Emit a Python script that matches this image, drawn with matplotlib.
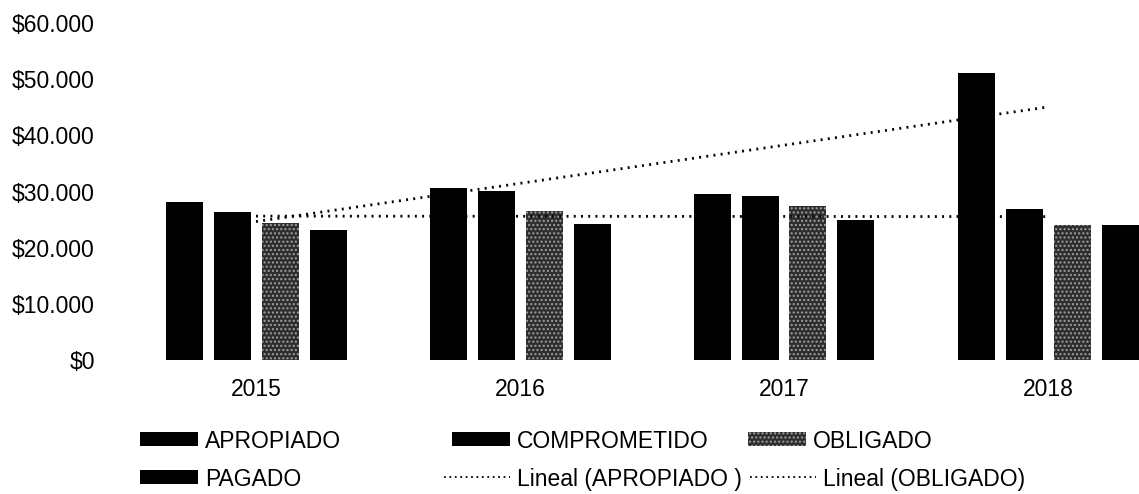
import matplotlib
matplotlib.use('Agg')
import matplotlib.pyplot as plt
from matplotlib.patches import Patch
from matplotlib.lines import Line2D
import numpy as np

plt.rcParams['font.family'] = ['Liberation Sans', 'DejaVu Sans']

years = ['2015', '2016', '2017', '2018']
apropiado = [28100, 30600, 29600, 51100]
comprometido = [26300, 30100, 29200, 26900]
obligado = [24400, 26500, 27400, 24000]
pagado = [23100, 24200, 24900, 24000]

y_ticks = [0, 10000, 20000, 30000, 40000, 50000, 60000]
y_labels = ['$0', '$10.000', '$20.000', '$30.000', '$40.000', '$50.000', '$60.000']

W, H = 1139, 494
fig = plt.figure(figsize=(W / 100, H / 100), dpi=100)
ax = fig.add_axes([124 / W, 1 - 360 / H, (W - 124) / W, (360 - 23) / H])

x = np.arange(len(years))
step = 48 / 264
width = 37 / 264

ax.bar(x - 1.5 * step, apropiado, width, color='black')
ax.bar(x - 0.5 * step, comprometido, width, color='black')
ax.bar(x + 0.5 * step, obligado, width, color='#2e2e2e', edgecolor='#a0a0a0',
       linewidth=0, hatch='....')
ax.bar(x + 1.5 * step, pagado, width, color='black')

# linear trend lines as Excel draws them, on top of the bars
for series in (apropiado, obligado):
    k, b = np.polyfit(x + 1, series, 1)
    ax.plot(x, k * (x + 1) + b, color='black', lw=2, dashes=(0.7, 1.9), zorder=3)

ax.set_xlim(-0.5, -0.5 + (W - 124) / 264)
ax.set_ylim(0, 60000)
ax.set_xticks(x)
ax.set_xticklabels(years)
ax.set_yticks(y_ticks)
ax.set_yticklabels(y_labels)
ax.tick_params(axis='both', length=0, labelsize=16.5)
ax.tick_params(axis='x', pad=13)
ax.tick_params(axis='y', pad=21)
for s in ax.spines.values():
    s.set_visible(False)

# legend laid out like Excel's grid legend, one entry at a time
bar_h = dict(handlelength=2.53, handleheight=0.57)
dot_h = dict(handlelength=2.9)
entries = [
    (Patch(facecolor='black'), 'APROPIADO', 140, 441, bar_h),
    (Patch(facecolor='black'), 'COMPROMETIDO', 452, 441, bar_h),
    (Patch(facecolor='#2e2e2e', edgecolor='#a0a0a0', linewidth=0, hatch='....'), 'OBLIGADO', 748, 441, bar_h),
    (Patch(facecolor='black'), 'PAGADO', 140, 479, bar_h),
    (Line2D([], [], color='black', lw=1.3, dashes=(1, 2)), 'Lineal (APROPIADO )', 444, 479, dot_h),
    (Line2D([], [], color='black', lw=1.3, dashes=(1, 2)), 'Lineal (OBLIGADO)', 750, 479, dot_h),
]
for handle, label, hx, hy, opts in entries:
    fig.legend([handle], [label], loc='center left', bbox_to_anchor=(hx / W, 1 - hy / H),
               frameon=False, fontsize=16.5, borderpad=0, borderaxespad=0,
               handletextpad=0.3, **opts)

fig.savefig('out.png', dpi=100)
